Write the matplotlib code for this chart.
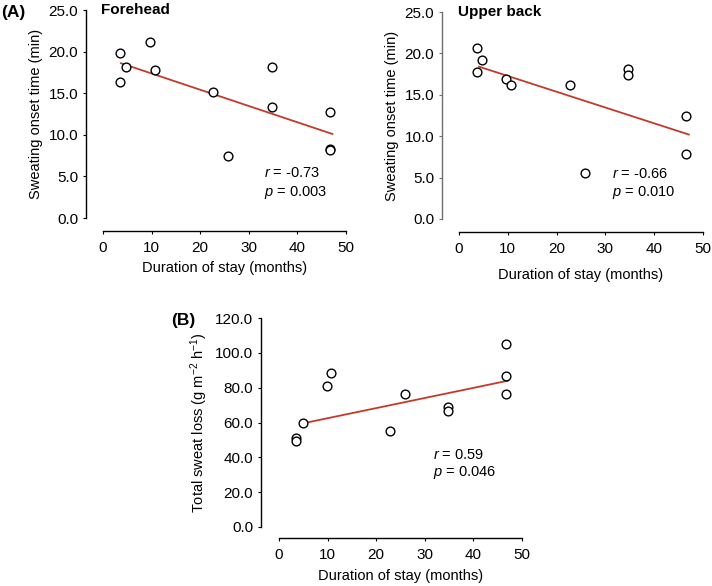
import matplotlib
matplotlib.use("Agg")
import matplotlib.pyplot as plt

plt.rcParams["font.family"] = ["Liberation Sans", "DejaVu Sans"]
plt.rcParams["mathtext.fontset"] = "custom"
plt.rcParams["mathtext.rm"] = "Liberation Sans"
plt.rcParams["mathtext.it"] = "Liberation Sans:italic"

# Forehead: sweating onset time (min) vs duration of stay (months)
fh_months = [3.6, 3.6, 4.7, 9.7, 10.6, 22.7, 25.7, 34.7, 34.7, 46.7, 46.7, 46.7]
fh_onset = [19.8, 16.4, 18.2, 21.2, 17.8, 15.1, 7.5, 18.2, 13.3, 12.7, 8.3, 8.2]
fh_fit_x = [3.7, 47.2]
fh_fit_y = [18.6, 10.1]

# Upper back
ub_months = [3.6, 3.6, 4.8, 9.7, 10.7, 22.7, 25.8, 34.7, 34.7, 46.6, 46.6]
ub_onset = [20.7, 17.7, 19.2, 16.9, 16.2, 16.2, 5.6, 18.1, 17.4, 12.5, 7.8]
ub_fit_x = [4.1, 47.1]
ub_fit_y = [18.4, 10.2]

# Total sweat loss (g m-2 h-1)
sl_months = [3.6, 3.6, 4.9, 9.8, 10.8, 22.8, 25.9, 34.7, 34.7, 46.8, 46.8, 46.8]
sl_loss = [51.0, 49.3, 59.7, 80.8, 88.7, 55.3, 76.2, 69.1, 66.4, 105.0, 86.8, 76.2]
sl_fit_x = [4.9, 47.1]
sl_fit_y = [59.5, 84.0]

W, H = 712, 586
RED = "#c43a2a"
TICK_FS = 11
LAB_FS = 10.5


def px_axes(fig, x0, x1, y0, y1):
    # x0/x1 = pixel columns of data min/max, y0/y1 = pixel rows of data min/max
    return fig.add_axes([x0 / W, 1 - y0 / H, (x1 - x0) / W, (y0 - y1) / H])


def style(ax, xlim, ylim, yticks, left_off, bottom_off, spine_col="black"):
    ax.set_xlim(*xlim)
    ax.set_ylim(*ylim)
    for s in ("top", "right"):
        ax.spines[s].set_visible(False)
    ax.spines["left"].set_position(("outward", left_off * 0.72))
    ax.spines["bottom"].set_position(("outward", bottom_off * 0.72))
    ax.spines["left"].set_color(spine_col)
    ax.spines["left"].set_linewidth(1.0)
    ax.spines["bottom"].set_linewidth(1.0)
    ax.set_xticks([0, 10, 20, 30, 40, 50])
    ax.set_yticks(yticks)
    ax.set_yticklabels([f"{v:.1f}" for v in yticks])
    ax.tick_params(length=2.5, width=0.8, labelsize=TICK_FS, colors="black")
    ax.tick_params(axis="x", pad=5)
    ax.tick_params(axis="y", pad=3, color=spine_col)
    ax.patch.set_alpha(0)


def scatter(ax, x, y, fx, fy):
    ax.plot(fx, fy, color=RED, lw=1.3, zorder=2)
    ax.plot(x, y, "o", ms=6.3, mfc="white", mec="black", mew=1.0,
            ls="none", zorder=3, clip_on=False)


fig = plt.figure(figsize=(W / 100, H / 100), dpi=100)

# Panel A, forehead
ax1 = px_axes(fig, 103, 346, 218, 10)
style(ax1, (0, 50), (0, 25), [0, 5, 10, 15, 20, 25], 17, 13)
scatter(ax1, fh_months, fh_onset, fh_fit_x, fh_fit_y)
ax1.set_ylabel("Sweating onset time (min)", fontsize=LAB_FS, labelpad=4)
ax1.set_xlabel("Duration of stay (months)", fontsize=LAB_FS, labelpad=4)
ax1.text(33.2, 5.4, r"$\it{r}$ = -0.73", fontsize=LAB_FS, va="center")
ax1.text(33.2, 3.1, r"$\it{p}$ = 0.003", fontsize=LAB_FS, va="center")

# Panel A, upper back
ax2 = px_axes(fig, 459, 703, 219, 12)
style(ax2, (0, 50), (0, 25), [0, 5, 10, 15, 20, 25], 17, 13, spine_col="#6e6e6e")
scatter(ax2, ub_months, ub_onset, ub_fit_x, ub_fit_y)
ax2.set_ylabel("Sweating onset time (min)", fontsize=LAB_FS, labelpad=4)
ax2.set_xlabel("Duration of stay (months)", fontsize=LAB_FS, labelpad=8)
ax2.text(31.3, 5.4, r"$\it{r}$ = -0.66", fontsize=LAB_FS, va="center")
ax2.text(31.3, 3.2, r"$\it{p}$ = 0.010", fontsize=LAB_FS, va="center")

# Panel B, total sweat loss
ax3 = px_axes(fig, 279, 522, 527, 318)
style(ax3, (0, 50), (0, 120), [0, 20, 40, 60, 80, 100, 120], 18, 11)
scatter(ax3, sl_months, sl_loss, sl_fit_x, sl_fit_y)
ax3.set_ylabel(r"Total sweat loss (g m$^{-2}$ h$^{-1}$)", fontsize=LAB_FS, labelpad=4)
ax3.set_xlabel("Duration of stay (months)", fontsize=LAB_FS, labelpad=5)
ax3.text(31.7, 41.3, r"$\it{r}$ = 0.59", fontsize=LAB_FS, va="center")
ax3.text(31.7, 31.2, r"$\it{p}$ = 0.046", fontsize=LAB_FS, va="center")

# titles and panel letters
fig.text(101 / W, 1 - 10 / H, "Forehead", fontsize=11, fontweight="bold", va="center")
fig.text(458 / W, 1 - 12 / H, "Upper back", fontsize=11, fontweight="bold", va="center")
fig.text(1 / W, 1 - 12 / H, "(A)", fontsize=12.5, fontweight="bold", va="center")
fig.text(171 / W, 1 - 320 / H, "(B)", fontsize=12.5, fontweight="bold", va="center")

fig.savefig("out.png", dpi=100, facecolor="white")
